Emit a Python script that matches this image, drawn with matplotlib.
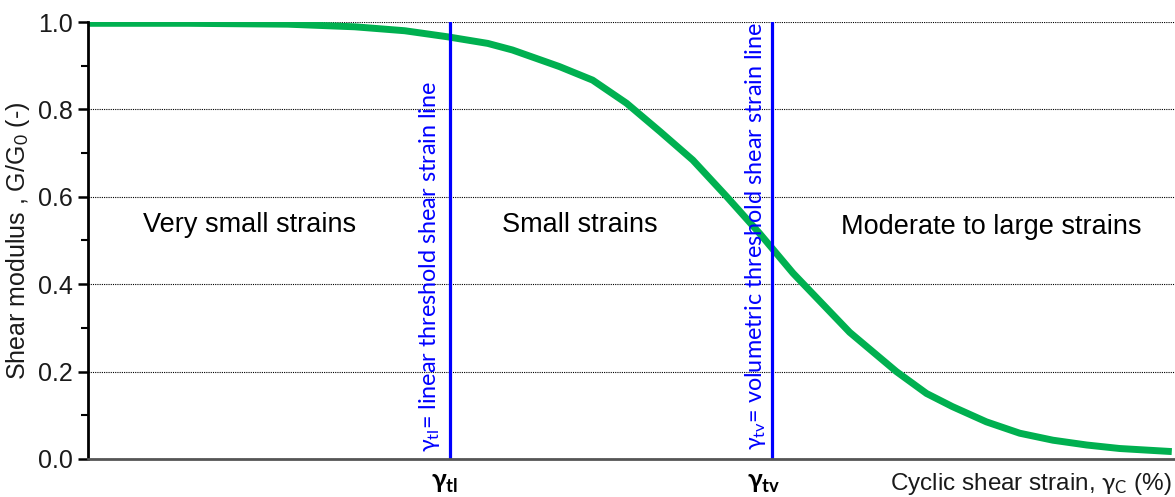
import numpy as np
import matplotlib.pyplot as plt

plt.rcParams['mathtext.fontset'] = 'custom'
plt.rcParams['mathtext.rm'] = 'Lato'
plt.rcParams['mathtext.it'] = 'Lato'
plt.rcParams['mathtext.bf'] = 'Lato:bold'

# modulus reduction curve, strain in %
strain = [1.0e-5, 3.56e-5, 1.27e-4, 2.97e-4, 5.6e-4, 9.7e-4, 1.61e-3, 2.2e-3, 4.0e-3,
          6.1e-3, 9.4e-3, 1.44e-2, 2.18e-2, 3.36e-2, 5.1e-2, 7.8e-2, 0.16, 0.29,
          0.425, 0.59, 0.91, 1.39, 2.12, 3.26, 4.95, 9.6]
g_ratio = [0.997, 0.997, 0.995, 0.989, 0.980, 0.966, 0.951, 0.936, 0.898,
           0.867, 0.814, 0.749, 0.684, 0.600, 0.516, 0.425, 0.29, 0.20,
           0.150, 0.120, 0.085, 0.059, 0.043, 0.032, 0.024, 0.017]

# threshold strains
gamma_tl = 1.0e-3
gamma_tv = 6.0e-2

regions = ["Very small strains", "Small strains", "Moderate to large strains"]

fig = plt.figure(figsize=(11.75, 4.97), dpi=100)
ax = fig.add_axes([88/1175, 1 - 459/497, 1 - 88/1175, (459 - 22)/497])

ax.plot(strain, g_ratio, color='#00B050', linewidth=5, solid_joinstyle='round',
        solid_capstyle='butt')
ax.axvline(gamma_tl, color='#0000FF', linewidth=2.3)
ax.axvline(gamma_tv, color='#0000FF', linewidth=2.3)

ax.set_xscale('log')
ax.set_xlim(1e-5, 10)
ax.set_ylim(0, 1.0)
ax.set_xticks([])
ax.minorticks_off()
ax.set_yticks(np.arange(0, 1.01, 0.2))
ax.set_yticks(np.arange(0.1, 1.0, 0.2), minor=True)
ax.set_yticklabels(["%.1f" % v for v in np.arange(0, 1.01, 0.2)],
                   fontfamily='Liberation Sans', fontsize=18, color='#1a1a1a')
ax.tick_params(axis='y', which='major', direction='out', length=7, width=1.8, pad=4)
ax.tick_params(axis='y', which='minor', direction='out', length=5, width=1.5)
ax.tick_params(axis='x', which='both', length=0)

ax.yaxis.grid(True, linestyle=(0, (1, 1)), color='black', linewidth=0.8)
for s in ['top', 'right']:
    ax.spines[s].set_visible(False)
ax.spines['left'].set_linewidth(2)
ax.spines['left'].set_color('black')
ax.spines['bottom'].set_linewidth(2)
ax.spines['bottom'].set_color('#555555')

ax.set_ylabel("Shear modulus , G/G$_{\\mathrm{0}}$ (-)", fontfamily='Liberation Sans',
              fontsize=18, color='#1a1a1a', labelpad=4)

# region captions
cap = dict(transform=ax.transAxes, ha='center', va='center',
           fontfamily='Liberation Sans', fontsize=19.5, color='black')
ax.text((250 - 88)/1087, 0.535, regions[0], **cap)
ax.text((580 - 88)/1087, 0.535, regions[1], **cap)
ax.text((991 - 88)/1087, 0.53, regions[2], **cap)

# threshold line captions
ax.text((430 - 88)/1087, 0.015, "$\\gamma_{\\mathrm{tl}}$= linear threshold shear strain line",
        transform=ax.transAxes, rotation=90, ha='center', va='bottom',
        color='#0000FF', fontfamily='Lato', fontsize=16.8)
ax.text((755 - 88)/1087, 0.02, "$\\gamma_{\\mathrm{tv}}$= volumetric threshold shear strain line",
        transform=ax.transAxes, rotation=90, ha='center', va='bottom',
        color='#0000FF', fontfamily='Lato', fontsize=16.8)

fig.text(445/1175, 1 - 482/497, "$\\mathbf{\\gamma_{tl}}$", ha='center', va='center',
         fontsize=19, color='black')
fig.text(764/1175, 1 - 482/497, "$\\mathbf{\\gamma_{tv}}$", ha='center', va='center',
         fontsize=19, color='black')

fig.text(1172/1175, 1 - 484/497, "Cyclic shear strain, $\\gamma_{\\mathrm{C}}$ (%)",
         ha='right', va='center', fontfamily='Liberation Sans', fontsize=17.5, color='#1a1a1a')

fig.savefig('out.png', dpi=100)
